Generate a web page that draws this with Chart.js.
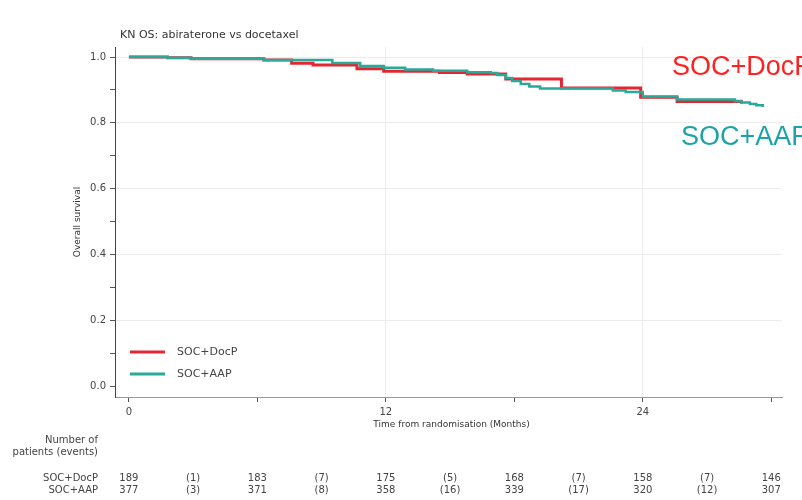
<!DOCTYPE html>
<html>
<head>
<meta charset="utf-8">
<script src="https://cdn.jsdelivr.net/npm/chart.js@4"></script>
<style>
  body { margin: 0; background: #fff; }
  canvas { display: block; }
</style>
</head>
<body>
<canvas id="km" width="802" height="500"></canvas>
<script>
// Curvas Kaplan-Meier (meses, supervivencia)
const docpTime = [0, 1.8, 2.9, 6.3, 7.6, 8.6, 10.65, 11.9, 14.5, 15.8, 17.6, 20.2, 23.9, 25.6, 28.6, 28.6];
const docpSurv = [1.0, 0.998, 0.995, 0.991, 0.981, 0.976, 0.964, 0.957, 0.953, 0.948, 0.933, 0.906, 0.878, 0.865, 0.859, 0.859];

const aapTime = [0, 1.8, 2.9, 6.3, 9.5, 10.8, 11.9, 12.9, 14.2, 15.8, 16.9, 17.2, 17.6, 17.9, 18.3, 18.7, 19.2, 22.6, 23.2, 24.0, 25.6, 28.3, 28.6, 29.0, 29.3, 29.6];
const aapSurv = [1.0, 0.998, 0.995, 0.991, 0.982, 0.973, 0.967, 0.962, 0.958, 0.954, 0.951, 0.945, 0.936, 0.927, 0.918, 0.910, 0.904, 0.898, 0.894, 0.880, 0.871, 0.866, 0.862, 0.857, 0.853, 0.848];

// Ejes
const xTickValues = [0, 6, 12, 18, 24, 30];
const xLabelValues = [0, 12, 24];
const yTickValues = [0, 0.1, 0.2, 0.3, 0.4, 0.5, 0.6, 0.7, 0.8, 0.9, 1.0];
const yLabelValues = [0, 0.2, 0.4, 0.6, 0.8, 1.0];

// Tabla de pacientes en riesgo
const riskMonths = [0, 3, 6, 9, 12, 15, 18, 21, 24, 27, 30];
const riskDocP = ['189', '(1)', '183', '(7)', '175', '(5)', '168', '(7)', '158', '(7)', '146'];
const riskAAP = ['377', '(3)', '371', '(8)', '358', '(16)', '339', '(17)', '320', '(12)', '307'];

const redColor = '#e3262f';
const tealColor = '#2aa89a';
const smallFont = "'DejaVu Sans', sans-serif";

function isLabel(list, v) {
    return list.some(l => Math.abs(l - v) < 1e-6);
}

// Plugin para textos extra: título, títulos de ejes, leyenda y tabla
const extras = {
    id: 'extras',
    afterDraw(chart) {
        const ctx = chart.ctx;
        const xs = chart.scales.x;
        const area = chart.chartArea;
        ctx.save();
        ctx.fillStyle = '#333';
        ctx.textBaseline = 'middle';

        ctx.font = '11px ' + smallFont;
        ctx.textAlign = 'left';
        ctx.fillText('KN OS: abiraterone vs docetaxel', 120, 35);

        ctx.font = '9px ' + smallFont;
        ctx.textAlign = 'center';
        ctx.fillText('Time from randomisation (Months)', (area.left + area.right) / 2 + 3, 425);

        ctx.save();
        ctx.translate(78, 222);
        ctx.rotate(-Math.PI / 2);
        ctx.fillText('Overall survival', 0, 0);
        ctx.restore();

        // leyenda interior
        const legendItems = [
            { label: 'SOC+DocP', color: redColor, y: 352 },
            { label: 'SOC+AAP', color: tealColor, y: 374 }
        ];
        ctx.font = '11px ' + smallFont;
        ctx.textAlign = 'left';
        legendItems.forEach(item => {
            ctx.strokeStyle = item.color;
            ctx.lineWidth = 3;
            ctx.beginPath();
            ctx.moveTo(130, item.y);
            ctx.lineTo(165, item.y);
            ctx.stroke();
            ctx.fillStyle = '#444';
            ctx.fillText(item.label, 177, item.y);
        });

        // etiquetas grandes a la derecha
        ctx.font = "27px 'Liberation Sans', sans-serif";
        ctx.textBaseline = 'alphabetic';
        ctx.fillStyle = '#ff2020';
        ctx.fillText('SOC+DocP', 672, 75);
        ctx.fillStyle = '#1ba3a8';
        ctx.fillText('SOC+AAP', 681, 145);

        // tabla de riesgo
        ctx.textBaseline = 'middle';
        ctx.fillStyle = '#444';
        ctx.font = '10px ' + smallFont;
        ctx.textAlign = 'right';
        ctx.fillText('Number of', 98, 440);
        ctx.fillText('patients (events)', 98, 452);
        ctx.fillText('SOC+DocP', 98, 478);
        ctx.fillText('SOC+AAP', 98, 490);
        ctx.textAlign = 'center';
        riskMonths.forEach((m, i) => {
            const px = xs.getPixelForValue(m);
            ctx.fillText(riskDocP[i], px, 478);
            ctx.fillText(riskAAP[i], px, 490);
        });
        ctx.restore();
    }
};

const ctx = document.getElementById('km').getContext('2d');
const chart = new Chart(ctx, {
    type: 'line',
    data: {
        datasets: [{
            label: 'SOC+AAP',
            data: aapTime.map((t, i) => ({ x: t, y: aapSurv[i] })),
            borderColor: tealColor,
            borderWidth: 2.5,
            stepped: true,
            pointRadius: 0,
            fill: false
        }, {
            label: 'SOC+DocP',
            data: docpTime.map((t, i) => ({ x: t, y: docpSurv[i] })),
            borderColor: redColor,
            borderWidth: 3,
            stepped: true,
            pointRadius: 0,
            fill: false
        }]
    },
    options: {
        responsive: false,
        animation: false,
        devicePixelRatio: 1,
        layout: {
            padding: { left: 0, top: 47, right: 20, bottom: 0 }
        },
        scales: {
            x: {
                type: 'linear',
                min: -0.65,
                max: 30.5,
                afterBuildTicks: scale => { scale.ticks = xTickValues.map(v => ({ value: v })); },
                afterFit: scale => { scale.height = 103; },
                ticks: {
                    autoSkip: false,
                    maxRotation: 0,
                    padding: 4,
                    color: '#444',
                    font: { family: smallFont, size: 10 },
                    callback: v => isLabel(xLabelValues, v) ? String(v) : ''
                },
                grid: {
                    color: c => (c.tick && c.tick.value > 0 && isLabel(xLabelValues, c.tick.value)) ? '#ececec' : 'rgba(0,0,0,0)',
                    tickColor: '#555',
                    tickLength: 5
                },
                border: { color: '#999', width: 1 }
            },
            y: {
                min: -0.0334,
                max: 1.0304,
                afterBuildTicks: scale => { scale.ticks = yTickValues.map(v => ({ value: v })); },
                afterFit: scale => { scale.width = 115; },
                ticks: {
                    autoSkip: false,
                    padding: 4,
                    color: '#444',
                    font: { family: smallFont, size: 10 },
                    callback: v => isLabel(yLabelValues, v) ? v.toFixed(1) : ''
                },
                grid: {
                    color: c => (c.tick && c.tick.value > 0 && isLabel(yLabelValues, c.tick.value)) ? '#ececec' : 'rgba(0,0,0,0)',
                    tickColor: '#555',
                    tickLength: 5
                },
                border: { color: '#444', width: 1 }
            }
        },
        plugins: {
            legend: { display: false },
            tooltip: { enabled: false }
        }
    },
    plugins: [extras]
});
</script>
</body>
</html>
